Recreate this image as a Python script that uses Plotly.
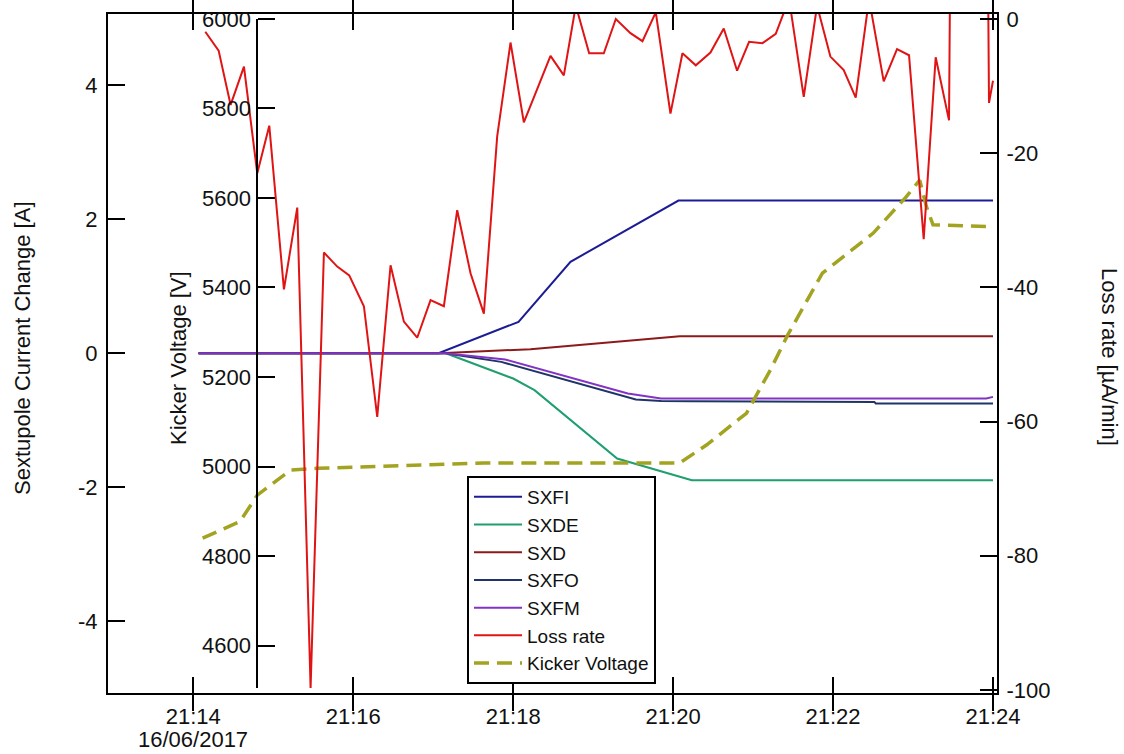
import plotly.graph_objects as go

DAY = "2017-06-16 "

# ---- Loss rate [uA/min] (right axis) ----
loss_time = ["21:14:09", "21:14:19", "21:14:28", "21:14:38", "21:14:48", "21:14:57", "21:15:08", "21:15:18",
             "21:15:28", "21:15:38", "21:15:48", "21:15:57", "21:16:08", "21:16:18", "21:16:28", "21:16:38",
             "21:16:48", "21:16:58", "21:17:08", "21:17:18", "21:17:28", "21:17:38", "21:17:48", "21:17:58",
             "21:18:08", "21:18:18", "21:18:28", "21:18:38", "21:18:47", "21:18:57", "21:19:08", "21:19:17",
             "21:19:28", "21:19:37", "21:19:47", "21:19:58", "21:20:07", "21:20:17", "21:20:28", "21:20:38",
             "21:20:48", "21:20:57", "21:21:07", "21:21:17", "21:21:27", "21:21:38", "21:21:48", "21:21:58",
             "21:22:08", "21:22:17", "21:22:27", "21:22:38", "21:22:48", "21:22:57", "21:23:08", "21:23:17",
             "21:23:27", "21:23:37", "21:23:47", "21:23:57", "21:24:00"]
loss_rate = [-1.9, -4.7, -12.8, -7.1, -23.0, -15.9, -40.3, -28.1,
             -99.7, -34.8, -36.9, -38.2, -42.8, -59.3, -36.7, -45.1,
             -47.5, -41.9, -42.8, -28.5, -37.9, -43.9, -17.5, -3.5,
             -15.4, -10.4, -5.5, -8.4, 2.0, -5.1, -5.1, 0.0,
             -2.1, -3.3, 1.0, -14.1, -5.1, -6.9, -5.0, -1.4,
             -7.7, -3.4, -3.6, -2.2, 3.0, -11.6, 2.0, -5.6,
             -7.6, -11.7, 3.0, -9.3, -4.5, -5.4, -32.8, -5.7,
             -15.1, 250.0, 250.0, -12.5, -9.2]

# ---- Sextupole current changes [A] (left axis) ----
sxfi_time = ["21:14:04", "21:17:04", "21:18:04", "21:18:43", "21:20:04", "21:24:00"]
sxfi = [0.0, 0.0, 0.467, 1.363, 2.276, 2.276]

sxde_time = ["21:14:04", "21:17:09", "21:17:20", "21:18:00", "21:18:16", "21:19:18", "21:20:14", "21:24:00"]
sxde = [0.0, 0.0, -0.08, -0.378, -0.552, -1.572, -1.896, -1.896]

sxd_time = ["21:14:04", "21:17:05", "21:18:13", "21:19:15", "21:20:05", "21:24:00"]
sxd = [0.0, 0.0, 0.06, 0.17, 0.254, 0.254]

sxfo_time = ["21:14:04", "21:17:09", "21:17:51", "21:19:32", "21:19:51", "21:20:13", "21:22:31", "21:22:32", "21:24:00"]
sxfo = [0.0, 0.0, -0.13, -0.691, -0.712, -0.716, -0.727, -0.75, -0.75]

sxfm_time = ["21:14:04", "21:17:09", "21:17:54", "21:19:26", "21:19:51", "21:23:55", "21:24:00"]
sxfm = [0.0, 0.0, -0.094, -0.601, -0.676, -0.676, -0.652]

# ---- Kicker voltage [V] (inner left axis) ----
kick_time = ["21:14:07", "21:14:35", "21:14:48", "21:15:13", "21:15:33", "21:17:38", "21:20:05", "21:20:25",
             "21:20:55", "21:21:13", "21:21:26", "21:21:52", "21:22:30", "21:22:55", "21:23:05", "21:23:10",
             "21:23:15", "21:24:00"]
kick_volt = [4840, 4877, 4936, 4992, 4996, 5008, 5008, 5048,
             5119, 5216, 5294, 5432, 5521, 5603, 5640, 5581,
             5540, 5536]

# ---- axis ticks ----
x_tickvals = ["21:14", "21:16", "21:18", "21:20", "21:22", "21:24"]
x_ticktext = ["21:14", "21:16", "21:18", "21:20", "21:22", "21:24"]
x_date_label = "16/06/2017"
x_range = ["21:12:56", "21:24:03"]
sext_ticks = [-4, -2, 0, 2, 4]
sext_range = [-5.07, 5.06]
kick_ticks = [4600, 4800, 5000, 5200, 5400, 5600, 5800, 6000]
kick_range = [4494, 6011]
kick_axis_span = [4505, 6000]
loss_ticks = [0, -20, -40, -60, -80, -100]
loss_range = [-100.45, 0.75]

def ts(lst):
    return [DAY + t for t in lst]

FONT = "Liberation Sans, Arial, sans-serif"
L, R, T, B = 108, 127, 14, 61
PW, PH = 1124 - L - R, 754 - T - B

def px(x):
    return (x - L) / PW

def py(y):
    return (754 - B - y) / PH

fig = go.Figure()
series = [
    ("SXFI", sxfi_time, sxfi, "#1c1c94"),
    ("SXDE", sxde_time, sxde, "#1f9e6e"),
    ("SXD", sxd_time, sxd, "#8c1a1a"),
    ("SXFO", sxfo_time, sxfo, "#1f3468"),
    ("SXFM", sxfm_time, sxfm, "#8333c4"),
]
for name, t, v, c in series:
    fig.add_trace(go.Scatter(x=ts(t), y=v, name=name, mode="lines",
                             line=dict(color=c, width=2), yaxis="y"))

fig.add_trace(go.Scatter(x=ts(loss_time), y=loss_rate, name="Loss rate", mode="lines",
                         line=dict(color="#e01414", width=2), yaxis="y3"))
fig.add_trace(go.Scatter(x=ts(kick_time), y=kick_volt, name="Kicker Voltage", mode="lines",
                         line=dict(color="#a3a322", width=3.5, dash="15px,8px"), yaxis="y2"))

axis_common = dict(showgrid=False, zeroline=False, showline=True, linecolor="black", linewidth=2,
                   ticks="inside", tickcolor="black", tickwidth=2,
                   tickfont=dict(family=FONT, size=22, color="#111111"))

fig.update_layout(
    width=1124, height=754,
    margin=dict(l=L, r=R, t=T, b=B, autoexpand=False),
    paper_bgcolor="white", plot_bgcolor="white",
    font=dict(family=FONT, size=22, color="#111111"),
    xaxis=dict(axis_common, type="date", range=ts(x_range), tickvals=ts(x_tickvals),
               ticktext=x_ticktext, mirror="allticks", ticklen=16, ticklabelstandoff=3),
    yaxis=dict(axis_common, range=sext_range, tickvals=sext_ticks,
               ticktext=[str(v) for v in sext_ticks], ticklen=17, ticklabelstandoff=4),
    yaxis2=dict(axis_common, overlaying="y", anchor="free", position=px(257), side="left",
                range=kick_range, tickvals=kick_ticks, ticktext=[str(v) for v in kick_ticks],
                showline=False, ticklen=17, ticklabelstandoff=6),
    yaxis3=dict(axis_common, overlaying="y", anchor="x", side="right", range=loss_range,
                tickvals=loss_ticks, ticktext=[str(v) for v in loss_ticks], ticklen=17,
                ticklabelstandoff=3),
    showlegend=True,
    legend=dict(x=px(467), y=py(684), xanchor="left", yanchor="bottom",
                bgcolor="white", bordercolor="black", borderwidth=2, itemwidth=48,
                font=dict(family=FONT, size=19, color="#111111"), tracegroupgap=0),
)

# inner kicker axis line (spans only the kicker tick range)
fig.add_shape(type="line", xref="paper", yref="y2", x0=px(257), x1=px(257),
              y0=kick_axis_span[0], y1=kick_axis_span[1], line=dict(color="black", width=2))

title_font = dict(family=FONT, size=22, color="#111111")
fig.add_annotation(text=x_date_label, xref="x", yref="paper", x=DAY + x_tickvals[0], y=py(739),
                   showarrow=False, xanchor="center", yanchor="middle", font=title_font)
fig.add_annotation(text="Sextupole Current Change [A]", xref="paper", yref="paper",
                   x=px(22), y=py(348), textangle=-90, showarrow=False,
                   xanchor="center", yanchor="middle", font=title_font)
fig.add_annotation(text="Kicker Voltage [V]", xref="paper", yref="paper",
                   x=px(178), y=py(358), textangle=-90, showarrow=False,
                   xanchor="center", yanchor="middle", font=title_font)
fig.add_annotation(text="Loss rate [µA/min]", xref="paper", yref="paper",
                   x=px(1110), y=py(357), textangle=90, showarrow=False,
                   xanchor="center", yanchor="middle", font=title_font)

fig.write_html("out.html")
